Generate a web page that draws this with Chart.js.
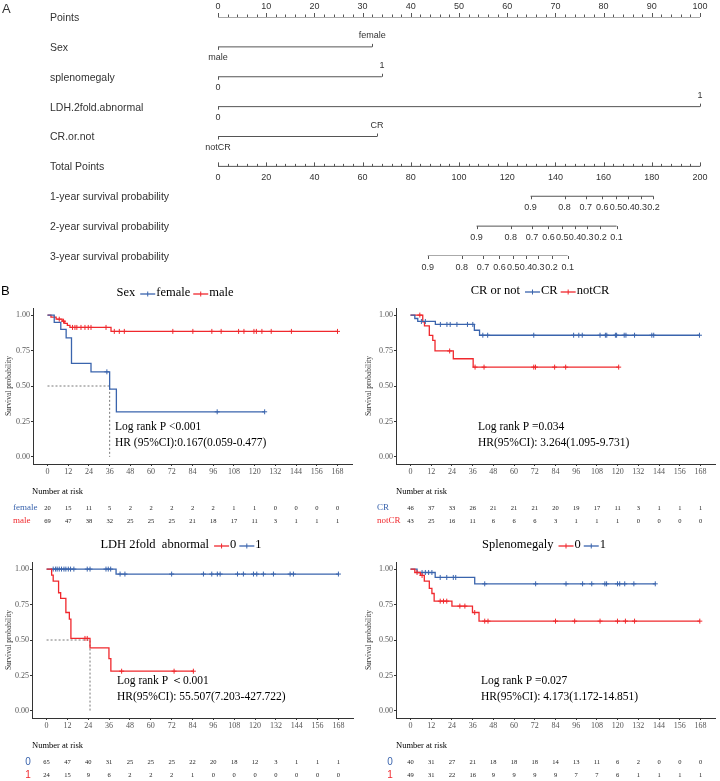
<!DOCTYPE html>
<html>
<head>
<meta charset="utf-8">
<script src="https://cdn.jsdelivr.net/npm/chart.js@4.4.1/dist/chart.umd.min.js"></script>
<style>
html,body{margin:0;padding:0;background:#fff;}
#wrap{position:relative;width:720px;height:781px;overflow:hidden;}
canvas{position:absolute;}
</style>
</head>
<body>
<div id="wrap">
<canvas id="nomo" width="720" height="272" style="left:0;top:0"></canvas>
<canvas id="km1" width="360" height="250" style="left:0;top:280px"></canvas>
<canvas id="km2" width="360" height="250" style="left:360px;top:280px"></canvas>
<canvas id="km3" width="360" height="246" style="left:0;top:535px"></canvas>
<canvas id="km4" width="360" height="246" style="left:360px;top:535px"></canvas>
</div>
<script>
// ---------- nomogram (A) ----------
const nomoRows=["Points","Sex","splenomegaly","LDH.2fold.abnormal","CR.or.not","Total Points",
  "1-year survival probability","2-year survival probability","3-year survival probability"];
const pointsTicks=[0,10,20,30,40,50,60,70,80,90,100];
const totalTicks=[0,20,40,60,80,100,120,140,160,180,200];
const sexLevels=["male","female"], sexPts=[0,32];
const splenLevels=["0","1"], splenPts=[0,34];
const ldhLevels=["0","1"], ldhPts=[0,100];
const crLevels=["notCR","CR"], crPts=[0,33];
const surv1Labels=["0.9","0.8","0.7","0.6","0.5","0.4","0.3","0.2"];
const surv1Pos=[129.7,143.8,152.6,159.4,165.1,170.3,175.4,180.7];
const surv2Labels=["0.9","0.8","0.7","0.6","0.5","0.4","0.3","0.2","0.1"];
const surv2Pos=[107.3,121.5,130.3,137.1,142.8,148.1,153.2,158.7,165.4];
const surv3Labels=["0.9","0.8","0.7","0.6","0.5","0.4","0.3","0.2","0.1"];
const surv3Pos=[87.0,101.1,110.0,116.8,122.5,127.8,132.9,138.4,145.1];

// ---------- Kaplan-Meier (B) ----------
const months=[0,12,24,36,48,60,72,84,96,108,120,132,144,156,168];

const sexFemaleT=[0,3.9,7.7,10.8,13.9,25.2,36,39.9,125.8];
const sexFemaleS=[1,0.948,0.899,0.84,0.659,0.60,0.478,0.318,0.318];
const sexFemaleC=[34.4,98.3,125.8];
const sexMaleT=[0,2,5,8.5,10,11.5,13,36.8,168];
const sexMaleS=[1,0.986,0.971,0.957,0.942,0.928,0.913,0.885,0.885];
const sexMaleC=[6.8,9.3,14.5,15.9,17,19.4,21.7,23.6,25.2,33.9,38.7,41.6,44.5,72.6,84.2,95.2,100.6,110.7,113.8,119.6,121,124.2,129.6,141.3,168];
const riskFemale=[20,15,11,5,2,2,2,2,2,1,1,0,0,0,0];
const riskMale=[69,47,38,32,25,25,25,21,18,17,11,3,1,1,1];

const crT=[0,2.5,4.2,14.4,37,40,167.4];
const crS=[1,0.976,0.955,0.934,0.893,0.858,0.858];
const crC=[6.3,8.6,17.3,21.1,23,26.9,33,36.1,41.9,44.7,71.4,94.5,97.5,99.5,109.8,112.9,113.7,118.7,119.4,123.8,124.8,129.8,139.8,140.9,167.4];
const notCrT=[0,7.1,8.1,10.9,12.9,14.2,24.8,36.3,120.6];
const notCrS=[1,0.953,0.924,0.857,0.822,0.747,0.692,0.633,0.633];
const notCrC=[5.4,22.7,37.4,42.6,71.4,72.4,83.5,89.9,120.6];
const riskCR=[46,37,33,26,21,21,21,20,19,17,11,3,1,1,1];
const riskNotCR=[43,25,16,11,6,6,6,3,1,1,1,0,0,0,0];

const ldh0T=[0,2.9,3.8,6.9,8.1,11.1,13.1,14,25,35.9,37,84.5];
const ldh0S=[1,0.958,0.915,0.833,0.793,0.694,0.647,0.511,0.445,0.369,0.28,0.28];
const ldh0C=[22.1,23.4,43.2,73.4,84.5];
const ldh1T=[0,40,168];
const ldh1S=[1,0.965,0.965];
const ldh1C=[3.8,5.2,6.1,7.3,8.6,10,11.1,12.5,13.8,15.7,23.4,25,34.2,35.5,36.9,42.3,45.1,72,90.3,95.1,98.3,99.9,109.9,113.3,119.1,121,124.8,130.6,140.2,142.1,168];
const riskLdh0=[65,47,40,31,25,25,25,22,20,18,12,3,1,1,1];
const riskLdh1=[24,15,9,6,2,2,2,1,0,0,0,0,0,0,0];

const spl0T=[0,2.5,5.7,8,10.9,12.4,13.7,24,35.9,39.7,167.6];
const spl0S=[1,0.976,0.955,0.915,0.864,0.828,0.774,0.739,0.694,0.633,0.633];
const spl0C=[3.8,6.7,17.2,19.1,21,28.6,31.5,37.2,43,44.9,84,95.1,109.8,119.9,124.5,129.8,167.6];
const spl1T=[0,3.8,14.3,37.2,141.8];
const spl1S=[1,0.976,0.941,0.896,0.896];
const spl1C=[6.7,8.6,10.5,12.4,17.2,21,24.8,26.2,43,72.5,90.1,99.7,105,112.6,113.6,119.9,121.2,124.1,129.4,141.8];
const riskSpl0=[40,31,27,21,18,18,18,14,13,11,6,2,0,0,0];
const riskSpl1=[49,31,22,16,9,9,9,9,7,7,6,1,1,1,1];

const RED='#f0282d', BLUE='#3a64ad';
const SANS='"Liberation Sans", Arial, sans-serif';
const SERIF='"Liberation Serif", "Times New Roman", serif';

// ---------- nomogram chart ----------
function seg(x0,x1,row,axis){
  return {data:[{x:x0,y:row},{x:x1,y:row}],xAxisID:axis||'x',showLine:true,
    borderColor:'#555',borderWidth:1,pointRadius:0};
}
function vtick(ctx,x,y,len){
  ctx.beginPath();ctx.moveTo(Math.round(x)+0.5,y);ctx.lineTo(Math.round(x)+0.5,y+len);ctx.stroke();
}
const nomoPlugin={
  id:'nomo',
  afterDatasetsDraw(chart){
    const {ctx,scales:{x,xt,y}}=chart;
    ctx.save();
    ctx.fillStyle='#333';ctx.strokeStyle='#555';ctx.lineWidth=1;
    ctx.textBaseline='middle';
    ctx.font='13px '+SANS;ctx.textAlign='left';
    ctx.fillText('A',2,9);
    ctx.font='10.5px '+SANS;
    nomoRows.forEach((r,i)=>ctx.fillText(r,50,y.getPixelForValue(i)+1));
    ctx.font='9px '+SANS;ctx.textAlign='center';
    // Points axis
    let py=y.getPixelForValue(0);
    for(let v=0;v<=100;v+=2) vtick(ctx,x.getPixelForValue(v),py,v%10===0?-4:-2.5);
    pointsTicks.forEach(v=>ctx.fillText(String(v),x.getPixelForValue(v),py-10));
    // variable rows
    [[sexPts,sexLevels],[splenPts,splenLevels],[ldhPts,ldhLevels],[crPts,crLevels]].forEach((r,i)=>{
      const ry=y.getPixelForValue(i+1);
      const [pts,lev]=r;
      vtick(ctx,x.getPixelForValue(pts[0]),ry,3);
      vtick(ctx,x.getPixelForValue(pts[1]),ry,-3);
      ctx.fillText(lev[0],x.getPixelForValue(pts[0]),ry+11);
      ctx.fillText(lev[1],x.getPixelForValue(pts[1]),ry-11);
    });
    // Total points
    py=y.getPixelForValue(5);
    for(let v=0;v<=200;v+=4) vtick(ctx,xt.getPixelForValue(v),py,v%20===0?-4:-2.5);
    totalTicks.forEach(v=>ctx.fillText(String(v),xt.getPixelForValue(v),py+11));
    // survival axes
    [[surv1Pos,surv1Labels],[surv2Pos,surv2Labels],[surv3Pos,surv3Labels]].forEach((r,i)=>{
      const ry=y.getPixelForValue(6+i);
      r[0].forEach((v,j)=>{
        const px=xt.getPixelForValue(v);
        vtick(ctx,px,ry,3);
        ctx.fillText(r[1][j],px,ry+11.5);
      });
    });
    ctx.restore();
  }
};
new Chart(document.getElementById('nomo'),{
  type:'scatter',
  data:{datasets:[
    seg(0,100,0),
    seg(sexPts[0],sexPts[1],1),
    seg(splenPts[0],splenPts[1],2),
    seg(ldhPts[0],ldhPts[1],3),
    seg(crPts[0],crPts[1],4),
    seg(0,200,5,'xt'),
    seg(surv1Pos[0],surv1Pos[surv1Pos.length-1],6,'xt'),
    seg(surv2Pos[0],surv2Pos[surv2Pos.length-1],7,'xt'),
    seg(surv3Pos[0],surv3Pos[surv3Pos.length-1],8,'xt')
  ]},
  options:{
    responsive:false,animation:false,events:[],
    layout:{padding:{left:218,right:20,top:17,bottom:16}},
    plugins:{legend:{display:false},tooltip:{enabled:false}},
    scales:{
      x:{type:'linear',min:0,max:100,display:false},
      xt:{type:'linear',min:0,max:200,display:false,position:'bottom'},
      y:{type:'linear',min:0,max:8,reverse:true,display:false}
    }
  },
  plugins:[nomoPlugin]
});

// ---------- KM charts ----------
function stepAt(T,S,t){let v=S[0];for(let i=0;i<T.length;i++){if(T[i]<=t)v=S[i];}return v;}

function drawTitle(ctx,items,cx,cy){
  ctx.font='12.5px '+SERIF;
  const L=15;
  const w=items.map(it=>it.text!==undefined?ctx.measureText(it.text).width:L);
  const gap=items.map((it,i)=>i===items.length-1?0:(it.text!==undefined?(i===0?5:3):1));
  let tot=0;w.forEach((v,i)=>tot+=v+gap[i]);
  let cur=cx-tot/2;
  ctx.textAlign='left';ctx.textBaseline='middle';
  items.forEach((it,i)=>{
    if(it.text!==undefined){ctx.fillStyle='#000';ctx.fillText(it.text,cur,cy);}
    else{
      ctx.strokeStyle=it.line;ctx.lineWidth=1.3;
      ctx.beginPath();ctx.moveTo(cur,cy+1);ctx.lineTo(cur+L,cy+1);ctx.stroke();
      ctx.lineWidth=1;ctx.beginPath();ctx.moveTo(cur+L/2,cy-1.5);ctx.lineTo(cur+L/2,cy+3.5);ctx.stroke();
    }
    cur+=w[i]+gap[i];
  });
}

function makeKM(id,p){
  const ds=[];
  p.groups.forEach(g=>{
    ds.push({type:'line',data:g.T.map((t,i)=>({x:t,y:g.S[i]})),stepped:true,
      borderColor:g.color,borderWidth:1.3,pointRadius:0,fill:false});
    ds.push({type:'scatter',data:g.C.map(t=>({x:t,y:stepAt(g.T,g.S,t)})),pointStyle:'cross',
      pointRadius:2.5,borderColor:g.color,backgroundColor:g.color,borderWidth:1});
  });
  if(p.median!==null){
    ds.push({type:'line',data:[{x:0,y:0.5},{x:p.median,y:0.5},{x:p.median,y:0}],
      borderColor:'#555',borderWidth:0.8,borderDash:[2,2],pointRadius:0,fill:false});
  }
  const plug={
    id:'km'+id,
    afterDraw(chart){
      const {ctx,scales:{x}}=chart;
      ctx.save();
      if(p.tag){ctx.font='13px '+SANS;ctx.fillStyle='#000';ctx.textAlign='left';ctx.textBaseline='middle';ctx.fillText(p.tag,1,11);}
      drawTitle(ctx,p.title,p.titleX,p.titleY);
      ctx.font='11.5px '+SERIF;ctx.fillStyle='#000';ctx.textAlign='left';ctx.textBaseline='middle';
      ctx.fillText(p.annot[0],p.annotX,p.annotY);
      ctx.fillText(p.annot[1],p.annotX,p.annotY+16);
      ctx.font='8.5px '+SERIF;
      ctx.fillText('Number at risk',p.riskX,p.riskY);
      p.risk.forEach((r,i)=>{
        const ry=p.riskY+16+i*13;
        ctx.font=r.font;ctx.fillStyle=r.color;ctx.textAlign=p.labelAlign;
        ctx.fillText(r.label,p.labelX,ry);
        ctx.font='6.5px '+SERIF;ctx.fillStyle='#222';ctx.textAlign='center';
        r.values.forEach((v,j)=>ctx.fillText(String(v),x.getPixelForValue(months[j]),ry));
      });
      ctx.restore();
    }
  };
  new Chart(document.getElementById(id),{
    type:'line',
    data:{datasets:ds},
    options:{
      responsive:false,animation:false,events:[],
      layout:{padding:{left:0,top:p.top,right:p.right,bottom:p.bottom}},
      plugins:{legend:{display:false},tooltip:{enabled:false}},
      scales:{
        x:{type:'linear',min:-8.4,max:176.4,
          afterFit:s=>{s.height=14;},
          afterBuildTicks:s=>{s.ticks=months.map(v=>({value:v}));},
          grid:{display:true,drawOnChartArea:false,tickLength:2,color:'#333'},
          border:{display:true,color:'#333',width:1},
          ticks:{font:{family:SERIF,size:8},color:'#555',padding:1,maxRotation:0,autoSkip:false,
            callback:v=>String(v)}},
        y:{type:'linear',min:-0.05,max:1.05,
          afterFit:s=>{s.width=p.left;},
          afterBuildTicks:s=>{s.ticks=[0,0.25,0.5,0.75,1].map(v=>({value:v}));},
          grid:{display:true,drawOnChartArea:false,tickLength:2,color:'#333'},
          border:{display:true,color:'#333',width:1},
          ticks:{font:{family:SERIF,size:8},color:'#555',padding:1,callback:v=>v.toFixed(2)},
          title:{display:true,text:'Survival probability',font:{family:SERIF,size:7.5},color:'#333',padding:{top:5,bottom:0}}}
      }
    },
    plugins:[plug]
  });
}

makeKM('km1',{left:33,right:8,top:28,bottom:52,tag:'B',
  groups:[{T:sexFemaleT,S:sexFemaleS,C:sexFemaleC,color:BLUE},{T:sexMaleT,S:sexMaleS,C:sexMaleC,color:RED}],
  median:36,
  title:[{text:'Sex'},{line:BLUE},{text:'female'},{line:RED},{text:'male'}],titleX:175,titleY:13,
  annot:['Log rank P <0.001','HR (95%CI):0.167(0.059-0.477)'],annotX:115,annotY:147,
  riskX:32,riskY:212,labelX:13,labelAlign:'left',
  risk:[{label:'female',color:BLUE,values:riskFemale,font:'9px '+SERIF},{label:'male',color:RED,values:riskMale,font:'9px '+SERIF}]});

makeKM('km2',{left:36,right:4,top:28,bottom:52,tag:null,
  groups:[{T:crT,S:crS,C:crC,color:BLUE},{T:notCrT,S:notCrS,C:notCrC,color:RED}],
  median:null,
  title:[{text:'CR or not'},{line:BLUE},{text:'CR'},{line:RED},{text:'notCR'}],titleX:180,titleY:11,
  annot:['Log rank P =0.034','HR(95%CI): 3.264(1.095-9.731)'],annotX:118,annotY:147,
  riskX:36,riskY:212,labelX:17,labelAlign:'left',
  risk:[{label:'CR',color:BLUE,values:riskCR,font:'9px '+SERIF},{label:'notCR',color:RED,values:riskNotCR,font:'9px '+SERIF}]});

makeKM('km3',{left:32,right:7,top:27,bottom:49,tag:null,
  groups:[{T:ldh0T,S:ldh0S,C:ldh0C,color:RED},{T:ldh1T,S:ldh1S,C:ldh1C,color:BLUE}],
  median:25,
  title:[{text:'LDH 2fold  abnormal'},{line:RED},{text:'0'},{line:BLUE},{text:'1'}],titleX:181,titleY:10,
  annot:['Log rank P \uFF1C0.001','HR(95%CI): 55.507(7.203-427.722)'],annotX:117,annotY:146,
  riskX:32,riskY:211,labelX:28,labelAlign:'center',
  risk:[{label:'0',color:BLUE,values:riskLdh0,font:'10px '+SANS},{label:'1',color:RED,values:riskLdh1,font:'10px '+SANS}]});

makeKM('km4',{left:36,right:2,top:27,bottom:49,tag:null,
  groups:[{T:spl0T,S:spl0S,C:spl0C,color:RED},{T:spl1T,S:spl1S,C:spl1C,color:BLUE}],
  median:null,
  title:[{text:'Splenomegaly'},{line:RED},{text:'0'},{line:BLUE},{text:'1'}],titleX:184,titleY:10,
  annot:['Log rank P =0.027','HR(95%CI): 4.173(1.172-14.851)'],annotX:121,annotY:146,
  riskX:36,riskY:211,labelX:30,labelAlign:'center',
  risk:[{label:'0',color:BLUE,values:riskSpl0,font:'10px '+SANS},{label:'1',color:RED,values:riskSpl1,font:'10px '+SANS}]});
</script>
</body>
</html>
